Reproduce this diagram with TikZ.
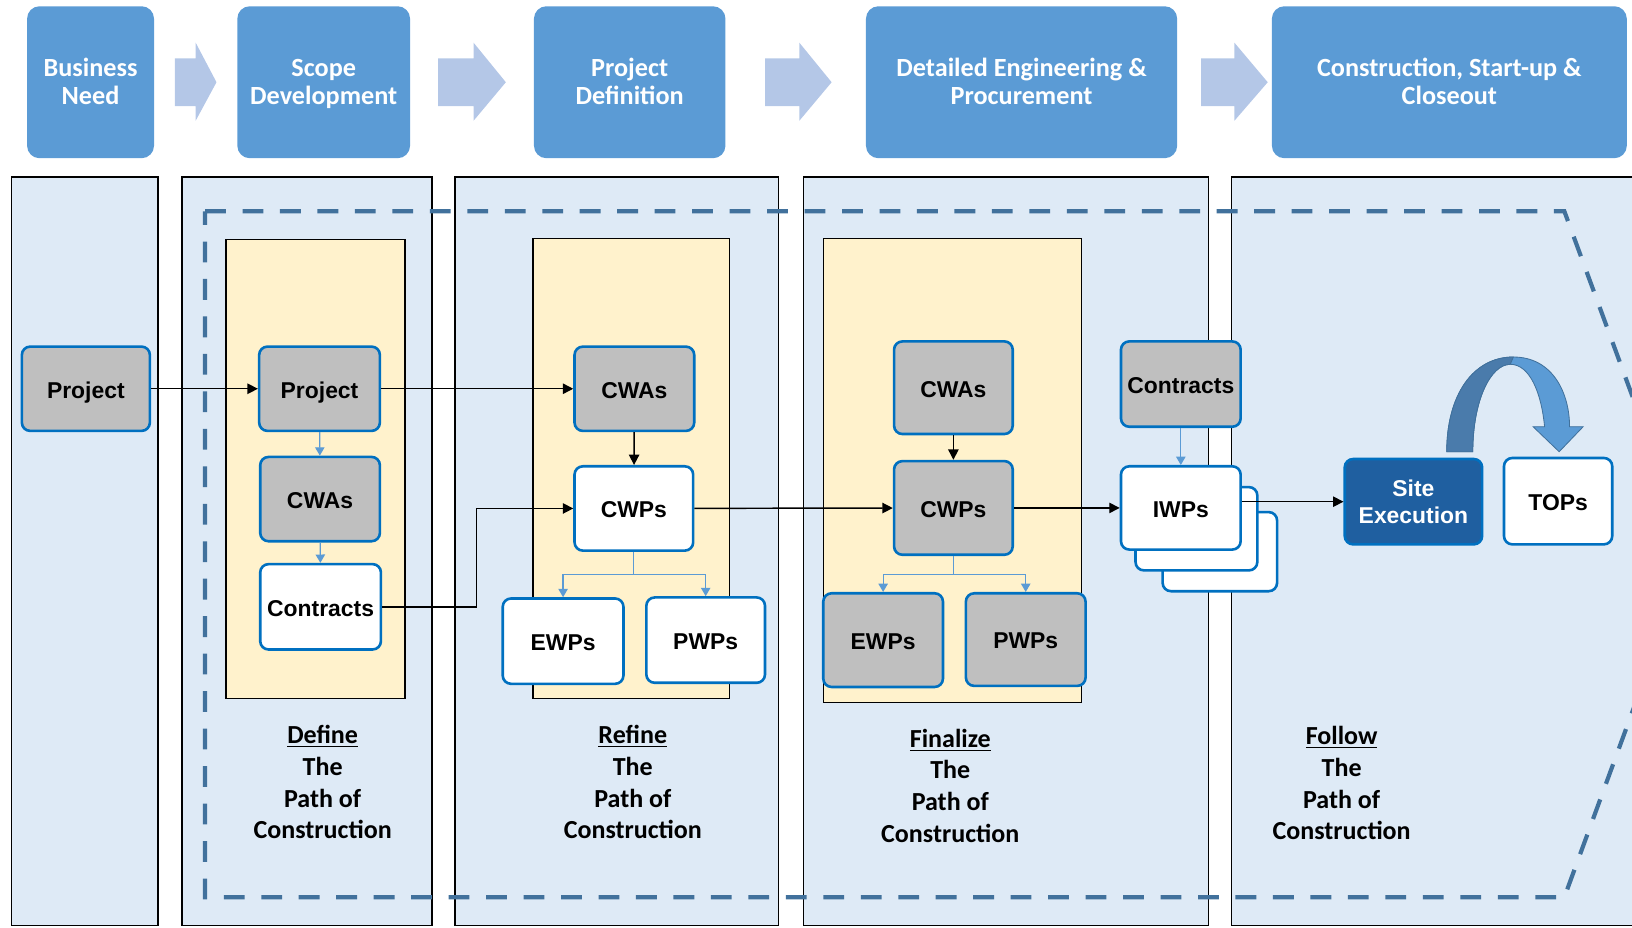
\documentclass[tikz,border=0pt]{standalone}
\usepackage{fontspec}
\setmainfont{Carlito}
\newfontfamily\arialf{Liberation Sans}
\usetikzlibrary{arrows.meta}
\definecolor{hdrblue}{HTML}{5B9BD5}
\definecolor{arrblue}{HTML}{B4C7E7}
\definecolor{lanefill}{HTML}{DEEAF6}
\definecolor{yelfill}{HTML}{FFF2CC}
\definecolor{boxgray}{HTML}{BFBFBF}
\definecolor{nodeblue}{HTML}{0070C0}
\definecolor{sitefill}{HTML}{1F5FA0}
\definecolor{dashblue}{HTML}{41719C}
\definecolor{curvedark}{HTML}{4A7BAB}
\definecolor{lconnblue}{HTML}{5B9BD5}
\newcommand\hdrarrow[3]{\fill[arrblue] (#1,56) -- (#2,56) -- (#2,41) -- (#3,79) -- (#2,116) -- (#2,102) -- (#1,102) -- cycle;}
\begin{document}
\begin{tikzpicture}[x=0.5pt,y=-0.5pt,
  hdr/.style={fill=hdrblue, rounded corners=6pt, minimum height=73pt, inner sep=0pt,
    text=white, align=center, text depth=0.5pt, font=\bfseries\fontsize{12.6}{13.5}\selectfont},
  lane/.style={fill=lanefill, draw=black, line width=0.75pt},
  yel/.style={fill=yelfill, draw=black, line width=0.75pt},
  box/.style={draw=nodeblue, line width=1.25pt, rounded corners=4pt, inner sep=0pt,
    align=center, font=\arialf\bfseries\fontsize{11}{13}\selectfont},
  onel/.style={text height=9pt, text depth=0pt},
  gbox/.style={box, onel, fill=boxgray},
  wbox/.style={box, onel, fill=white},
  sbox/.style={box, fill=sitefill, text=white},
  conn/.style={draw=black, line width=0.7pt, -{Triangle[length=5pt,width=5pt]}},
  lconn/.style={draw=lconnblue, line width=0.6pt, -{Triangle[length=4pt,width=4.5pt]}},
  dashline/.style={draw=dashblue, line width=2pt, dash pattern=on 10pt off 8pt},
  lbl/.style={align=center, inner sep=0pt, font=\bfseries\fontsize{12.5}{15.25}\selectfont}
]
\useasboundingbox (0,0) rectangle (1568,891);
\clip (0,0) rectangle (1568,891);

% header
\node[hdr, minimum width=61pt] (h1) at (87,79) {Business\\Need};
\node[hdr, minimum width=83pt] (h2) at (311,79) {Scope\\Development};
\node[hdr, minimum width=92pt] (h3) at (605,79) {Project\\Definition};
\node[hdr, minimum width=149.5pt] (h4) at (981.5,79) {Detailed Engineering \&\\Procurement};
\node[hdr, minimum width=170.5pt] (h5) at (1392.5,79) {Construction, Start-up \&\\Closeout};
\hdrarrow{168}{188}{208}
\hdrarrow{421}{455}{486}
\hdrarrow{735}{768}{799}
\hdrarrow{1154}{1186}{1218}

% lanes
\draw[lane] (11,170) rectangle (152,889);
\draw[lane] (175,170) rectangle (415,889);
\draw[lane] (437,170) rectangle (748,889);
\draw[lane] (772,170) rectangle (1161,889);
\draw[lane] (1183,170) rectangle (1572,889);

% yellow boxes
\draw[yel] (217,230) rectangle (389,671);
\draw[yel] (512,229) rectangle (701,671);
\draw[yel] (791,229) rectangle (1039,675);

% dashed outline
\draw[dashline] (197,203) -- (1503,203) -- (1624,532) -- (1503,862) -- (197,862) -- cycle;

% nodes
\node[gbox, minimum width=61.5pt, minimum height=40.5pt] (p1) at (82.5,373.5) {Project};
\node[gbox, minimum width=58pt, minimum height=40.5pt] (p2) at (307,373.5) {Project};
\node[gbox, minimum width=57.5pt, minimum height=40.5pt] (cwa2) at (307.5,479.5) {CWAs};
\node[wbox, minimum width=58pt, minimum height=41pt] (con2) at (308,583) {Contracts};
\node[gbox, minimum width=57.5pt, minimum height=40.5pt] (cwa3) at (609.5,373.5) {CWAs};
\node[wbox, minimum width=57pt, minimum height=40.5pt] (cwp3) at (609,488.5) {CWPs};
\node[wbox, minimum width=58pt, minimum height=41pt] (ewp3) at (541,616) {EWPs};
\node[wbox, minimum width=57pt, minimum height=41pt] (pwp3) at (678,615) {PWPs};
\node[gbox, minimum width=57pt, minimum height=44.5pt] (cwa4) at (916,372.5) {CWAs};
\node[gbox, minimum width=57pt, minimum height=45pt] (cwp4) at (916,488) {CWPs};
\node[gbox, minimum width=57.5pt, minimum height=45pt] (ewp4) at (848.5,615) {EWPs};
\node[gbox, minimum width=57.5pt, minimum height=44.5pt] (pwp4) at (985.5,614.5) {PWPs};
\node[gbox, minimum width=57.5pt, minimum height=41pt] (con4) at (1134.5,369) {Contracts};
\node[wbox, minimum width=55pt, minimum height=38pt] (iwpc) at (1172,530) {};
\node[wbox, minimum width=58.5pt, minimum height=40pt] (iwpb) at (1149.5,508) {};
\node[wbox, minimum width=57.5pt, minimum height=40pt] (iwp) at (1134.5,488) {IWPs};
\node[sbox, minimum width=66pt, minimum height=41pt] (site) at (1358,482) {Site\\Execution};
\node[wbox, minimum width=52pt, minimum height=41.5pt] (tops) at (1497,481.5) {TOPs};

% curved arrow
\fill[hdrblue, draw=dashblue, line width=0.4pt] (1390,434) .. controls (1390,380) and (1415,343) .. (1454,343)
  .. controls (1492,343) and (1508,378) .. (1508,410) -- (1521,410) -- (1498,434) -- (1473,410) -- (1484,410)
  .. controls (1481,378) and (1470,350) .. (1451,350) .. controls (1432,350) and (1415,385) .. (1415,434) -- cycle;
\fill[curvedark, draw=dashblue, line width=0.4pt] (1390,434) .. controls (1390,380) and (1415,343) .. (1454,343)
  -- (1451,350) .. controls (1432,350) and (1415,385) .. (1415,434) -- cycle;

% connectors
\coordinate (bend1) at (458,583);
\draw[conn] (p1) -- (p2);
\draw[conn] (p2) -- (cwa3);
\draw[conn] (cwa3) -- (cwp3);
\draw[conn] (con2.east) -- (bend1) |- (cwp3.west);
\draw[conn] (cwp3) -- (cwp4);
\draw[conn] (cwa4) -- (cwp4);
\draw[conn] (cwp4) -- (iwp);
\draw[conn] (iwp.east |- site.west) -- (site.west);

\draw[lconn] (p2) -- (cwa2);
\draw[lconn] (cwa2) -- (con2);
\draw[lconn] (con4) -- (iwp);
\draw[lconn] (cwp3.south) -- ++(0,22) -| (ewp3.north);
\draw[lconn] (cwp3.south) -- ++(0,22) -| (pwp3.north);
\draw[lconn] (cwp4.south) -- ++(0,18) -| (ewp4.north);
\draw[lconn] (cwp4.south) -- ++(0,18) -| (pwp4.north);

% labels
\node[lbl] (ldef) at (310,751.5) {\underline{Define}\\The\\Path of\\Construction};
\node[lbl] (lref) at (608,751.5) {\underline{Refine}\\The\\Path of\\Construction};
\node[lbl] (lfin) at (913,755) {\underline{Finalize}\\The\\Path of\\Construction};
\node[lbl] (lfol) at (1289,752.5) {\underline{Follow}\\The\\Path of\\Construction};
\end{tikzpicture}
\end{document}
